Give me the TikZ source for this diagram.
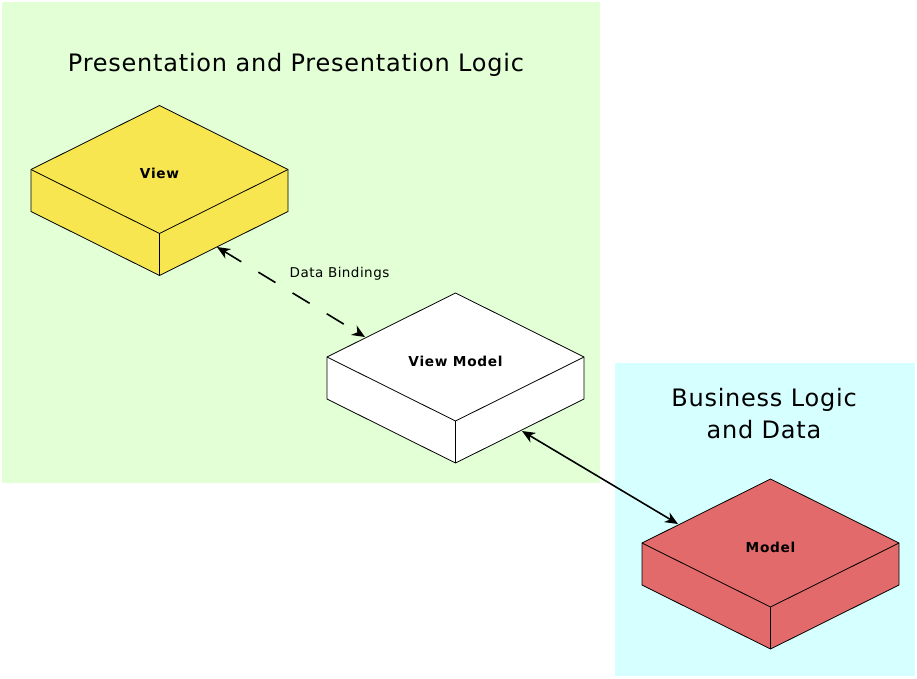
\documentclass[tikz,border=0pt]{standalone}
\usepackage{fontspec}
\setmainfont{DejaVu Sans}
\usetikzlibrary{arrows.meta}
\definecolor{greenbg}{HTML}{E2FFD6}
\definecolor{cyanbg}{HTML}{D6FFFF}
\definecolor{viewfill}{HTML}{F7E650}
\definecolor{modelfill}{HTML}{E36A6A}
\newcommand{\isoblock}[5]{%
  \begin{scope}[shift={(#2,#3)}]
    \filldraw[blockline, fill=#4] (0,-64) -- (128.5,0) -- (128.5,42) -- (0,106) -- (-128.5,42) -- (-128.5,0) -- cycle;
    \draw[blockline] (-128.5,0) -- (0,64) -- (128.5,0);
    \draw[blockline] (0,64) -- (0,106);
    \node[blocklabel] (#1) at (0,9) {#5};
  \end{scope}}
\begin{document}
\begin{tikzpicture}[x=1pt,y=-1pt,
  blockline/.style={draw=black, line width=0.8},
  blocklabel/.style={anchor=base, inner sep=0pt, font=\fontsize{13.7}{16}\selectfont\bfseries\addfontfeature{LetterSpace=5}},
  titletext/.style={inner sep=0pt, font=\fontsize{24}{32}\selectfont\addfontfeature{LetterSpace=3.2}, align=center},
  smalltext/.style={anchor=base, inner sep=0pt, font=\fontsize{13.5}{16}\selectfont\addfontfeature{LetterSpace=3.4}},
  conn/.style={line width=1.6, {Stealth[length=13,width=11,inset=4]}-{Stealth[length=13,width=11,inset=4]}},
  dashconn/.style={conn, dash pattern=on 20 off 20}]
\useasboundingbox (0,0) rectangle (917,678);
\fill[greenbg] (2,2) rectangle (600,483);
\fill[cyanbg] (615,363) rectangle (915,676);
\node[titletext, anchor=base] (ptitle) at (296,71.7) {Presentation and Presentation Logic};
\node[titletext] (btitle) at (764,414) {Business Logic\\and Data};
\isoblock{view}{159.5}{169.5}{viewfill}{View}
\isoblock{vm}{455.5}{357}{white}{View Model}
\isoblock{model}{770.5}{543}{modelfill}{Model}
\coordinate (vA) at (217,247);
\coordinate (vmA) at (365,337);
\coordinate (vmB) at (522,431);
\coordinate (mA) at (678,524);
\draw[dashconn] (vA) -- (vmA);
\draw[conn] (vmB) -- (mA);
\node[smalltext] (dbl) at (339.5,277.7) {Data Bindings};
\end{tikzpicture}
\end{document}
